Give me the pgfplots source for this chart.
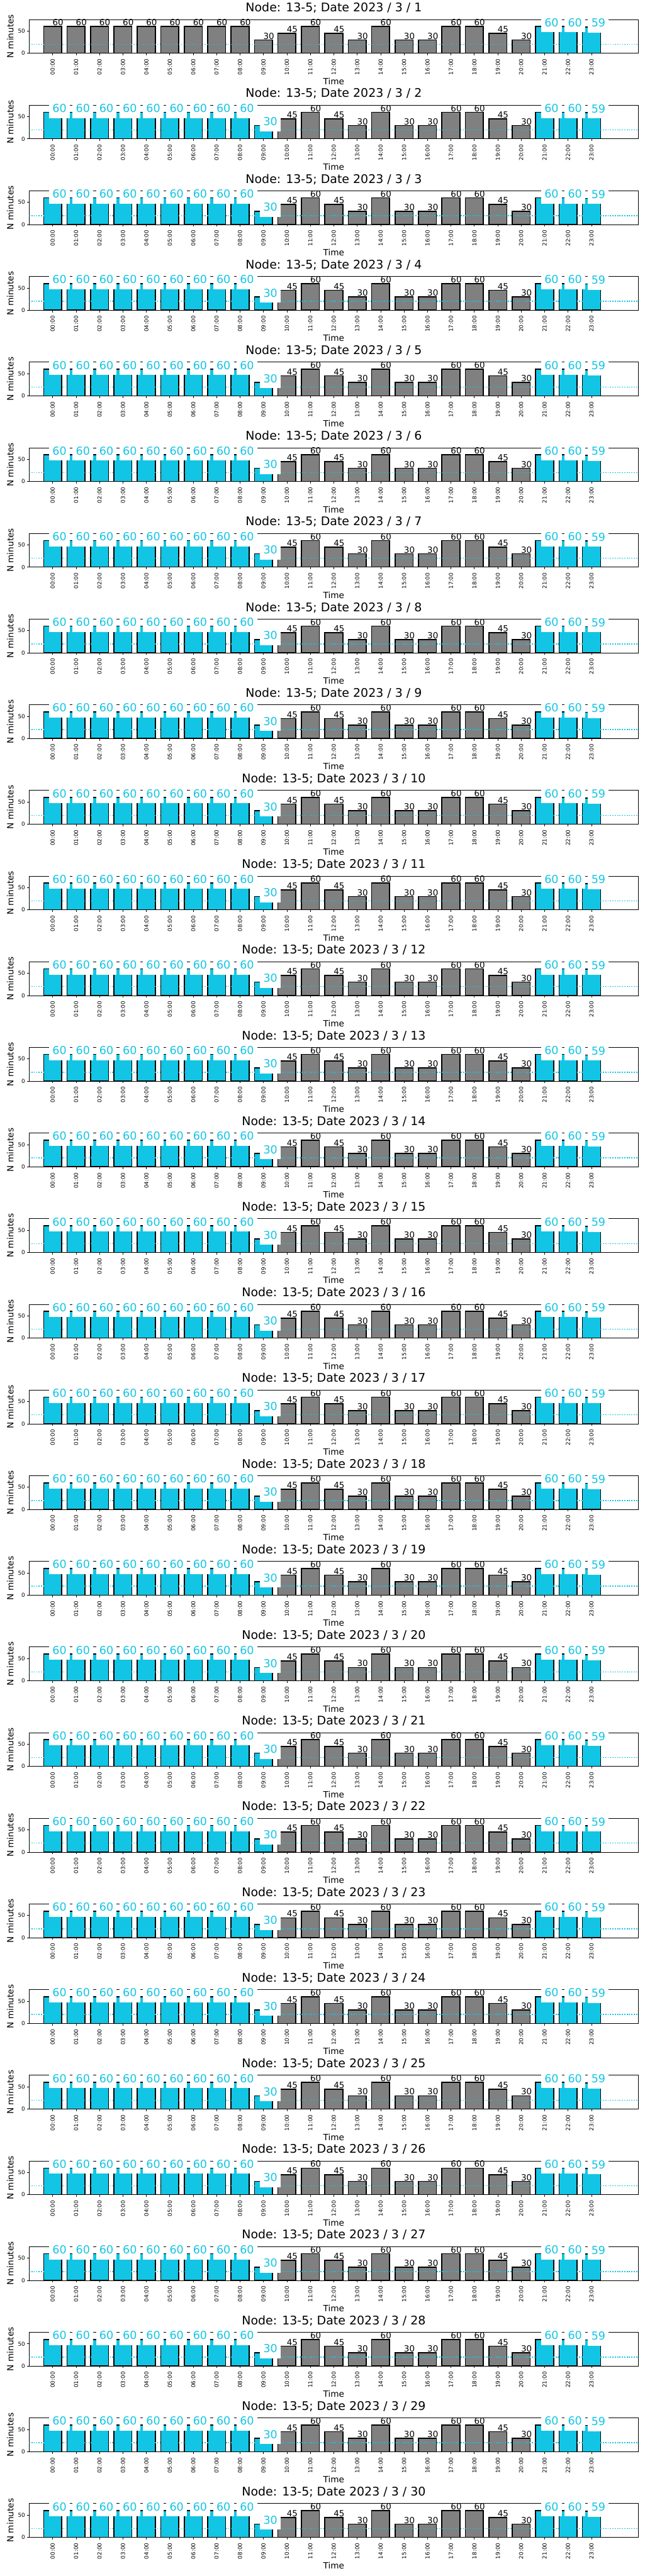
\documentclass[border=0pt]{standalone}
\usepackage{pgfplots}
\pgfplotsset{compat=1.18}
\usepackage{pgfplotstable}
\usepackage{fontspec}
\setmainfont{DejaVu Sans}
\definecolor{cyanc}{RGB}{18,197,228}
\definecolor{grayc}{RGB}{128,128,128}

% day 1
\pgfplotstableread{
x y
0 60
1 60
2 60
3 60
4 60
5 60
6 60
7 60
8 60
9 30
10 45
11 60
12 45
13 30
14 60
15 30
16 30
17 60
18 60
19 45
20 30
}\grayA
\pgfplotstableread{
x y
21 60
22 60
23 59
}\cyanA
% days 2-30
\pgfplotstableread{
x y
10 45
11 60
12 45
13 30
14 60
15 30
16 30
17 60
18 60
19 45
20 30
}\grayB
\pgfplotstableread{
x y
0 60
1 60
2 60
3 60
4 60
5 60
6 60
7 60
8 60
9 30
21 60
22 60
23 59
}\cyanB
\pgfplotstableread{
x y
-1 20
25 20
}\lineA
\pgfplotstableread{
x y
9.615 20
25 20
}\lineB

\pgfplotsset{
  sub/.style={
    scale only axis, width=1020.96pt, height=56.66pt,
    xmin=-1, xmax=25, ymin=0, ymax=76,
    axis line style={line width=0.8pt},
    tick style={line width=0.8pt, black},
    tick align=outside, major tick length=3.5pt,
    xtick pos=bottom, ytick pos=left,
    xtick={0,...,23},
    xticklabels={00:00,01:00,02:00,03:00,04:00,05:00,06:00,07:00,08:00,09:00,10:00,11:00,12:00,13:00,14:00,15:00,16:00,17:00,18:00,19:00,20:00,21:00,22:00,23:00},
    ytick={0,50},
    /pgf/number format/assume math mode=true,
    xticklabel style={rotate=90, anchor=east, inner xsep=5.9pt, inner ysep=0pt, font=\fontsize{9.3}{9.3}\selectfont},
    yticklabel style={anchor=east, inner xsep=3.3pt, inner ysep=0pt, font=\fontsize{9.3}{9.3}\selectfont},
    title style={at={(axis description cs:0.5,1)}, anchor=base, yshift=6.9pt, inner sep=0pt, font=\fontsize{20}{20}\selectfont},
    xlabel style={at={(axis description cs:0.5,0)}, anchor=base, yshift=-52.2pt, inner sep=0pt, font=\fontsize{14.4}{14.4}\selectfont},
    ylabel style={at={(axis description cs:-0.0256,0.5)}, anchor=south, inner sep=0pt, font=\fontsize{14.4}{14.4}\selectfont},
    xlabel={Time}, ylabel={N minutes},
  },
  barsty/.style={ybar, bar width=0.77, bar shift=0pt, draw=black, line width=1.7pt},
  blacklab/.style={nodes near coords, nodes near coords style={anchor=base west, inner sep=0pt, xshift=-1pt, yshift=1.4pt, text=black, font=\fontsize{14.2}{14.2}\selectfont}},
  cyanlab/.style={draw=none, mark=none, nodes near coords, nodes near coords style={anchor=base west, fill=white, text=cyanc, inner xsep=5.55pt, inner ysep=9.6pt, text depth=0pt, xshift=-5.98pt, font=\fontsize{18.5}{18.5}\selectfont}},
  dotsty/.style={cyanc, mark=none, line width=1.5pt, dash pattern=on 1.5pt off 2.475pt, line cap=butt},
}

\begin{document}
\begin{tikzpicture}
\useasboundingbox (0,0) rectangle (1080pt,-4320pt);
\foreach \k in {1,...,30}{
\pgfmathsetmacro\yy{-32.62-143.65*(\k-1)}
\begin{axis}[sub, at={(48.96pt,\yy pt)}, anchor=north west,
  title={Node: 13-5; Date 2023 / 3 / \k}]
\ifnum\k=1
  \addplot[barsty, fill=cyanc] table {\cyanA};
  \addplot[cyanlab] table {\cyanA};
  \addplot[barsty, fill=grayc, blacklab] table {\grayA};
  \addplot[dotsty] table {\lineA};
\else
  \addplot[barsty, fill=cyanc] table {\cyanB};
  \addplot[dotsty] table {\lineA};
  \addplot[cyanlab] table {\cyanB};
  \addplot[barsty, fill=grayc, blacklab] table {\grayB};
  \addplot[dotsty] table {\lineB};
\fi
\end{axis}
}
\end{tikzpicture}
\end{document}
